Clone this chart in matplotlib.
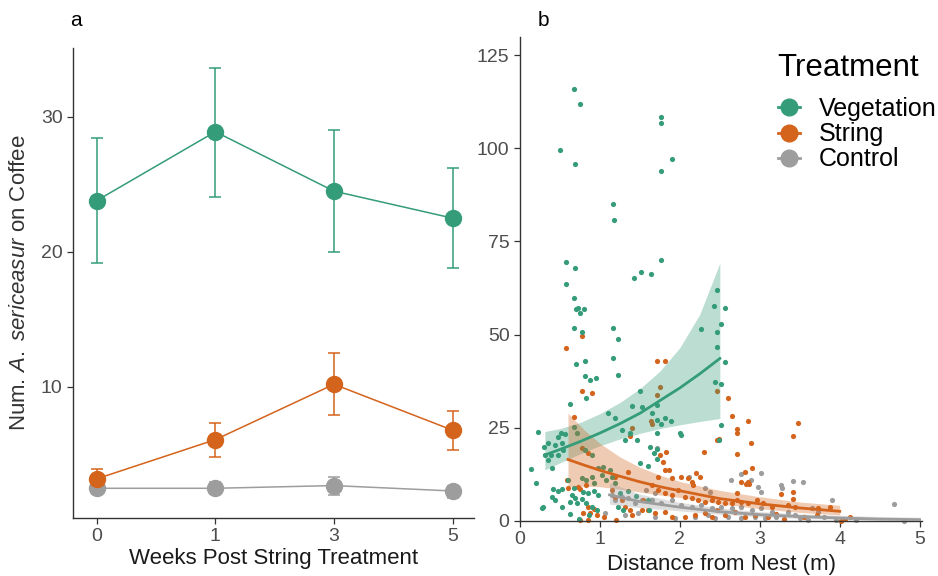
import matplotlib
matplotlib.use("Agg")
import matplotlib.pyplot as plt
from matplotlib.lines import Line2D

plt.rcParams['font.family'] = ['Liberation Sans', 'DejaVu Sans']
plt.rcParams['mathtext.fontset'] = 'custom'
plt.rcParams['mathtext.rm'] = 'Liberation Sans'
plt.rcParams['mathtext.it'] = 'Liberation Sans:italic'

GREEN = '#349c78'
ORANGE = '#d4631c'
GRAY = '#9d9d9d'

# ---- panel a: weekly means with error bars ----
weeks = ['0', '1', '3', '5']
veg_mean = [23.8, 28.9, 24.5, 22.5]
veg_lo = [19.2, 24.1, 20.0, 18.8]
veg_hi = [28.4, 33.6, 29.0, 26.2]
str_mean = [3.2, 6.1, 10.2, 6.8]
str_lo = [2.6, 4.8, 7.9, 5.3]
str_hi = [3.9, 7.3, 12.5, 8.2]
ctl_mean = [2.5, 2.5, 2.7, 2.3]
ctl_lo = [2.1, 2.1, 2.0, 1.8]
ctl_hi = [2.9, 3.0, 3.3, 2.7]

# ---- panel b: raw counts vs distance ----
veg_x = [0.68, 0.75, 0.50, 0.69, 1.76, 1.76, 1.90, 1.76, 1.16, 1.18, 0.57, 0.69, 0.57, 0.68,
         1.42, 1.51, 1.64, 1.76, 2.46, 0.70, 0.73, 0.80, 0.75, 0.68, 0.78, 1.16, 1.23, 0.70,
         0.81, 1.16, 0.81, 0.87, 0.95, 1.22, 0.82, 1.50, 2.43, 2.56, 2.51, 2.26, 2.46, 2.46,
         2.57, 2.44, 2.51, 0.63, 0.22, 0.51, 0.56, 0.48, 0.35, 0.44, 0.52, 0.30, 0.31, 0.39,
         0.47, 0.54, 0.35, 0.40, 0.14, 0.20, 0.27, 0.41, 0.47, 0.52, 0.40, 0.44, 0.53, 0.60,
         0.67, 0.65, 0.69, 0.63, 0.71, 0.77, 0.83, 0.90, 0.93, 0.79, 0.85, 0.92, 0.98, 0.77,
         0.82, 0.90, 0.96, 0.81, 0.90, 0.98, 1.04, 1.12, 1.02, 1.08, 1.15, 1.19, 0.67, 0.71,
         1.10, 1.19, 1.27, 1.37, 1.31, 1.46, 1.40, 1.52, 1.50, 1.23, 1.29, 1.71, 1.65, 1.71,
         1.77, 1.82, 1.89, 1.71, 2.00, 2.01, 2.51, 2.49, 1.63, 1.72, 1.67, 1.71, 1.60, 1.60,
         1.61, 1.25, 1.35, 1.45, 0.74, 0.86, 0.29, 0.62]
veg_y = [116.0, 111.9, 99.5, 95.8, 108.5, 106.9, 97.2, 93.9, 85.0, 80.7, 69.4, 67.9, 63.6, 59.9,
         65.1, 66.9, 66.2, 69.9, 62.0, 56.9, 57.2, 56.9, 55.7, 51.9, 50.6, 51.9, 48.9, 42.1,
         42.8, 43.8, 38.8, 37.9, 38.4, 39.2, 33.1, 34.9, 57.6, 57.2, 52.8, 51.6, 50.8, 46.8,
         42.6, 37.4, 36.7, 31.4, 24.0, 23.5, 23.3, 22.6, 20.8, 20.4, 21.0, 19.9, 17.7, 17.7,
         17.7, 19.0, 16.4, 14.1, 13.9, 10.3, 3.4, 8.5, 8.1, 8.5, 6.5, 5.6, 3.7, 11.0,
         8.8, 7.0, 6.1, 5.2, 4.7, 11.4, 11.0, 11.7, 10.3, 7.9, 7.4, 8.1, 7.0, 5.8,
         4.7, 3.8, 3.0, 19.0, 17.7, 14.1, 14.6, 13.7, 12.3, 11.0, 11.9, 10.1, 25.3, 23.5,
         28.9, 27.5, 24.4, 23.5, 21.7, 21.7, 30.8, 30.7, 15.5, 3.8, 3.0, 31.1, 29.0, 27.1,
         26.0, 27.5, 26.9, 23.7, 23.7, 23.1, 25.8, 21.7, 19.9, 19.2, 18.2, 16.6, 14.8, 5.6,
         3.0, 7.5, 8.0, 6.8, 0.6, 1.5, 3.7, 2.0]

str_x = [0.77, 0.57, 0.77, 0.90, 1.71, 1.81, 1.75, 1.71, 2.46, 2.60, 0.67, 0.77, 0.85, 0.59,
         0.60, 0.72, 0.79, 0.85, 0.88, 0.92, 0.96, 0.75, 0.85, 1.15, 1.19, 1.27, 1.31, 1.37,
         1.40, 1.52, 1.54, 1.19, 1.35, 1.40, 1.37, 1.64, 1.65, 2.65, 2.85, 2.71, 2.71, 2.46,
         2.49, 2.89, 2.30, 2.71, 1.83, 1.75, 1.79, 1.82, 1.86, 1.90, 2.01, 2.10, 2.15, 2.20,
         2.25, 2.17, 2.81, 2.90, 2.77, 2.85, 2.87, 2.83, 2.72, 2.71, 1.73, 1.65, 1.73, 1.81,
         1.90, 1.98, 2.06, 2.15, 2.23, 2.31, 2.40, 2.48, 2.56, 2.65, 2.77, 2.85, 2.96, 3.04,
         3.15, 1.60, 1.69, 1.81, 1.90, 2.06, 2.19, 2.31, 2.40, 2.46, 2.56, 2.69, 2.81, 2.94,
         3.48, 3.42, 3.42, 3.42, 3.27, 3.35, 3.44, 3.73, 3.88, 3.71, 4.02, 4.13, 4.06, 3.10,
         3.20, 3.30, 3.55, 1.05, 1.20, 0.75, 0.82]
str_y = [49.7, 46.5, 34.9, 34.3, 42.8, 42.8, 35.9, 33.7, 34.9, 33.0, 28.0, 19.5, 18.2, 11.0,
         8.8, 9.0, 2.1, 3.8, 2.2, 3.1, 1.6, 0.3, 0.3, 8.3, 6.5, 5.6, 3.8, 3.0,
         1.6, 3.0, 5.6, 11.9, 13.2, 24.9, 22.8, 26.9, 26.0, 28.2, 26.7, 24.6, 23.7, 21.7,
         21.9, 20.8, 18.5, 18.0, 18.6, 17.7, 15.9, 13.7, 13.7, 11.4, 11.7, 11.4, 10.5, 13.0,
         11.7, 9.7, 13.2, 14.1, 10.5, 10.5, 9.9, 9.9, 7.4, 5.6, 11.9, 9.7, 8.3, 7.4,
         7.0, 8.3, 6.5, 6.1, 5.6, 5.2, 5.6, 5.2, 4.7, 4.7, 5.2, 4.7, 5.6, 4.7,
         3.8, 3.0, 2.1, 2.5, 1.2, 1.2, 1.6, 2.1, 1.2, 3.0, 1.6, 2.5, 1.2, 1.6,
         26.4, 22.8, 7.9, 5.8, 7.2, 4.3, 3.8, 3.4, 3.7, 1.6, 0.1, 1.0, 0.5, 1.0,
         2.0, 0.5, 1.2, 1.0, 0.4, 8.7, 9.6]

ctl_x = [1.15, 1.19, 1.27, 1.35, 1.44, 1.52, 1.06, 1.31, 1.48, 2.64, 2.77, 2.89, 3.02, 2.98,
         3.02, 2.31, 2.38, 1.58, 1.69, 1.65, 1.77, 1.90, 2.02, 2.15, 2.27, 2.40, 2.52, 2.65,
         2.77, 2.90, 3.02, 3.15, 1.69, 1.94, 2.19, 2.35, 2.44, 2.60, 2.77, 2.94, 3.06, 1.71,
         2.12, 3.42, 3.54, 3.26, 3.28, 3.90, 4.68, 3.65, 3.35, 3.44, 3.73, 4.81, 3.20, 3.50,
         3.60, 3.80, 3.95, 4.20]
ctl_y = [7.0, 5.6, 6.5, 6.1, 4.7, 5.6, 2.1, 1.6, 2.1, 11.0, 12.6, 11.0, 12.8, 9.0,
         7.9, 8.8, 7.9, 8.3, 7.4, 5.6, 4.7, 5.6, 4.3, 3.8, 4.3, 3.4, 3.8, 3.4,
         3.8, 3.0, 3.4, 2.5, 1.2, 0.7, 1.2, 1.6, 0.7, 1.2, 0.7, 1.2, 0.7, 19.5,
         11.9, 10.8, 10.5, 9.7, 8.8, 5.6, 4.6, 3.4, 2.5, 1.6, 2.5, 0.0, 1.0, 0.8,
         0.3, 1.0, 0.3, 0.2]

# fitted curves and confidence ribbons
veg_fx = [0.31, 0.5, 0.75, 1.0, 1.25, 1.5, 1.75, 2.0, 2.25, 2.5]
veg_fit = [17.7, 19.2, 21.3, 23.6, 26.1, 28.9, 32.3, 35.7, 39.5, 43.6]
veg_flo = [13.7, 15.6, 18.0, 20.2, 22.0, 23.5, 24.8, 25.8, 26.7, 27.5]
veg_fhi = [24.0, 24.8, 26.4, 28.8, 31.8, 35.5, 40.2, 46.5, 55.5, 69.2]

str_fx = [0.6, 0.8, 1.0, 1.25, 1.5, 1.75, 2.0, 2.5, 3.0, 3.5, 4.0]
str_fit = [16.5, 15.0, 13.6, 12.0, 10.5, 9.2, 8.1, 6.0, 4.6, 3.5, 2.6]
str_flo = [9.2, 9.3, 9.2, 8.5, 7.8, 7.0, 6.3, 4.6, 3.3, 2.3, 1.6]
str_fhi = [28.9, 24.5, 20.8, 17.2, 14.4, 12.3, 10.6, 8.2, 6.5, 5.1, 4.2]

ctl_fx = [1.12, 1.5, 2.0, 2.5, 3.0, 3.5, 4.0, 4.5, 5.0]
ctl_fit = [7.0, 5.2, 3.7, 2.5, 1.7, 1.2, 0.8, 0.5, 0.35]
ctl_flo = [4.5, 3.6, 2.7, 1.8, 1.1, 0.7, 0.4, 0.2, 0.1]
ctl_fhi = [10.3, 7.2, 5.0, 3.5, 2.5, 1.9, 1.5, 1.2, 1.0]

fig = plt.figure(figsize=(9.38, 5.76), dpi=100)
ax1 = fig.add_axes([0.0778, 0.1007, 0.4275, 0.816])
ax2 = fig.add_axes([0.5544, 0.0955, 0.4286, 0.840])

pos = list(range(len(weeks)))
for mean, lo, hi, c in [(ctl_mean, ctl_lo, ctl_hi, GRAY),
                        (str_mean, str_lo, str_hi, ORANGE),
                        (veg_mean, veg_lo, veg_hi, GREEN)]:
    err = [[m - l for m, l in zip(mean, lo)], [h - m for m, h in zip(mean, hi)]]
    ax1.errorbar(pos, mean, yerr=err, color=c, lw=1.1, elinewidth=1.1,
                 capsize=4.6, capthick=1.1, marker='o', markersize=11.5)

ax1.set_xlim(-0.2, 3.18)
ax1.set_ylim(0.3, 35.1)
ax1.set_xticks(pos)
ax1.set_xticklabels(weeks)
ax1.set_yticks([10, 20, 30])
ax1.set_xlabel('Weeks Post String Treatment', fontsize=16, color='#1a1a1a', labelpad=2)
ax1.set_ylabel(r'Num. $\mathit{A.\ sericeasur}$ on Coffee', fontsize=16, color='#333333', labelpad=8)

# points, ribbons, fit lines
for xs, ys, c in [(ctl_x, ctl_y, GRAY), (str_x, str_y, ORANGE), (veg_x, veg_y, GREEN)]:
    ax2.scatter(xs, ys, s=14, color=c, linewidths=0, zorder=2, clip_on=False)
for fx, fit, flo, fhi, c in [(veg_fx, veg_fit, veg_flo, veg_fhi, GREEN),
                             (str_fx, str_fit, str_flo, str_fhi, ORANGE),
                             (ctl_fx, ctl_fit, ctl_flo, ctl_fhi, GRAY)]:
    ax2.fill_between(fx, flo, fhi, color=c, alpha=0.33, linewidth=0, zorder=3)
    ax2.plot(fx, fit, color=c, lw=2, zorder=4)

ax2.set_xlim(0, 5.03)
ax2.set_ylim(0, 129.8)
ax2.set_xticks([0, 1, 2, 3, 4, 5])
ax2.set_yticks([0, 25, 50, 75, 100, 125])
ax2.set_xlabel('Distance from Nest (m)', fontsize=16, color='#1a1a1a', labelpad=4)

for ax in (ax1, ax2):
    for s in ('top', 'right'):
        ax.spines[s].set_visible(False)
    for s in ('left', 'bottom'):
        ax.spines[s].set_color('#333333')
        ax.spines[s].set_linewidth(1.0)
    ax.tick_params(labelsize=14, labelcolor='#4d4d4d', color='#333333', length=4, width=0.9)

# legend: title as separate text, entries below it
fig.text(0.829, 1 - 68 / 576, 'Treatment', fontsize=22.5, va='center', ha='left')
handles = [Line2D([], [], color=c, marker='o', markersize=12, lw=2)
           for c in (GREEN, ORANGE, GRAY)]
fig.legend(handles, ['Vegetation', 'String', 'Control'],
           loc='upper left', bbox_to_anchor=(0.829, 1 - 97 / 576), frameon=False,
           fontsize=18, handlelength=0.9, handletextpad=0.75,
           labelspacing=0.05, borderaxespad=0, borderpad=0)

fig.text(0.0746, 0.965, 'a', fontsize=15, va='center')
fig.text(0.573, 0.965, 'b', fontsize=15, va='center')

fig.savefig('out.png', dpi=100)
